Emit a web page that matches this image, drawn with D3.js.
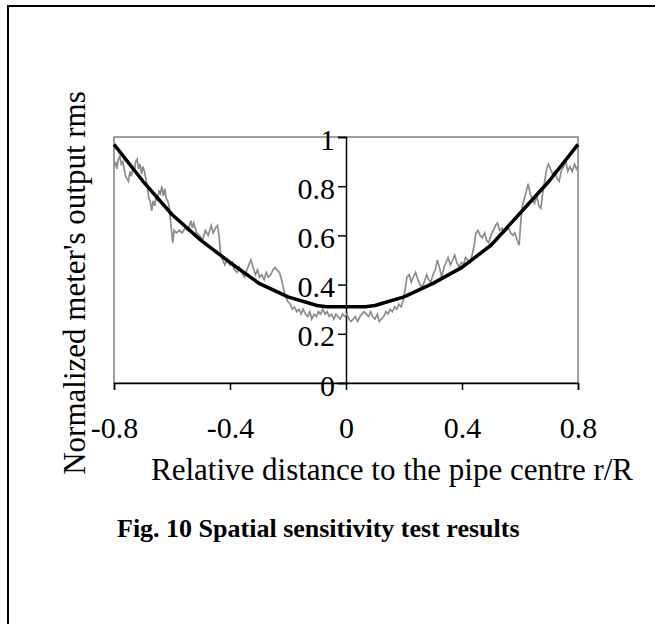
<!DOCTYPE html>
<html>
<head>
<meta charset="utf-8">
<script src="https://cdn.jsdelivr.net/npm/d3@7"></script>
<style>
  body { margin: 0; background: #fff; }
  svg text { font-family: "Liberation Serif", "Times New Roman", serif; fill: #000; }
</style>
</head>
<body>
<script>
// smooth fit (black)
var fitX = [-0.8, -0.7, -0.6, -0.5, -0.4, -0.3, -0.2, -0.1, -0.067, 0.067, 0.1, 0.2, 0.3, 0.4, 0.5, 0.6, 0.7, 0.8];
var fitY = [0.97, 0.82, 0.685, 0.58, 0.49, 0.405, 0.35, 0.315, 0.31, 0.31, 0.315, 0.35, 0.405, 0.47, 0.56, 0.69, 0.82, 0.97];

var measX = [-0.800, -0.795, -0.790, -0.785, -0.780, -0.775, -0.770, -0.765, -0.760, -0.755, -0.750, -0.745, -0.740, -0.735, -0.730, -0.725, -0.720, -0.715, -0.710, -0.705, -0.700, -0.695, -0.690, -0.685, -0.680, -0.675, -0.670, -0.665, -0.660, -0.655, -0.650, -0.645, -0.640, -0.635, -0.630, -0.625, -0.620, -0.615, -0.610, -0.605, -0.600, -0.597, -0.593, -0.585, -0.575, -0.565, -0.555, -0.545, -0.535, -0.530, -0.525, -0.515, -0.505, -0.495, -0.485, -0.475, -0.465, -0.458, -0.450, -0.443, -0.438, -0.432, -0.425, -0.418, -0.410, -0.400, -0.392, -0.385, -0.375, -0.368, -0.360, -0.350, -0.342, -0.335, -0.328, -0.320, -0.312, -0.305, -0.298, -0.290, -0.282, -0.275, -0.268, -0.260, -0.252, -0.245, -0.238, -0.230, -0.222, -0.215, -0.208, -0.200, -0.192, -0.185, -0.178, -0.170, -0.162, -0.155, -0.148, -0.140, -0.132, -0.125, -0.118, -0.110, -0.102, -0.095, -0.088, -0.080, -0.072, -0.065, -0.058, -0.050, -0.042, -0.035, -0.028, -0.020, -0.012, -0.005, 0.003, 0.010, 0.018, 0.025, 0.032, 0.040, 0.048, 0.055, 0.062, 0.070, 0.078, 0.085, 0.092, 0.100, 0.108, 0.115, 0.122, 0.130, 0.138, 0.145, 0.152, 0.160, 0.168, 0.175, 0.182, 0.190, 0.198, 0.204, 0.210, 0.218, 0.225, 0.232, 0.240, 0.248, 0.255, 0.262, 0.270, 0.278, 0.285, 0.292, 0.300, 0.308, 0.315, 0.322, 0.330, 0.338, 0.345, 0.352, 0.360, 0.368, 0.375, 0.382, 0.390, 0.398, 0.405, 0.412, 0.420, 0.428, 0.435, 0.442, 0.448, 0.455, 0.462, 0.470, 0.478, 0.485, 0.492, 0.500, 0.508, 0.515, 0.522, 0.530, 0.538, 0.545, 0.552, 0.560, 0.568, 0.575, 0.582, 0.590, 0.597, 0.603, 0.608, 0.615, 0.622, 0.628, 0.635, 0.642, 0.650, 0.658, 0.665, 0.672, 0.678, 0.685, 0.692, 0.698, 0.705, 0.712, 0.720, 0.728, 0.735, 0.742, 0.750, 0.758, 0.765, 0.772, 0.780, 0.788, 0.795, 0.800];
var measY = [0.88, 0.90, 0.87, 0.91, 0.92, 0.89, 0.90, 0.87, 0.84, 0.83, 0.82, 0.86, 0.84, 0.88, 0.86, 0.90, 0.91, 0.87, 0.89, 0.85, 0.88, 0.86, 0.83, 0.80, 0.75, 0.74, 0.70, 0.74, 0.72, 0.76, 0.74, 0.78, 0.77, 0.80, 0.76, 0.79, 0.75, 0.74, 0.72, 0.66, 0.60, 0.57, 0.62, 0.61, 0.62, 0.61, 0.63, 0.62, 0.66, 0.63, 0.65, 0.61, 0.60, 0.58, 0.62, 0.60, 0.64, 0.61, 0.63, 0.64, 0.60, 0.52, 0.50, 0.48, 0.50, 0.48, 0.49, 0.46, 0.45, 0.47, 0.45, 0.43, 0.46, 0.48, 0.50, 0.47, 0.44, 0.46, 0.43, 0.44, 0.42, 0.45, 0.43, 0.44, 0.46, 0.47, 0.46, 0.45, 0.42, 0.38, 0.35, 0.33, 0.32, 0.30, 0.31, 0.29, 0.30, 0.28, 0.30, 0.28, 0.27, 0.29, 0.26, 0.28, 0.27, 0.29, 0.28, 0.30, 0.28, 0.29, 0.27, 0.28, 0.26, 0.28, 0.27, 0.26, 0.28, 0.27, 0.28, 0.26, 0.25, 0.26, 0.27, 0.25, 0.27, 0.28, 0.29, 0.28, 0.27, 0.29, 0.27, 0.26, 0.28, 0.25, 0.26, 0.27, 0.29, 0.28, 0.30, 0.29, 0.31, 0.30, 0.32, 0.31, 0.34, 0.38, 0.43, 0.44, 0.41, 0.43, 0.45, 0.42, 0.40, 0.39, 0.41, 0.44, 0.42, 0.41, 0.44, 0.46, 0.50, 0.47, 0.43, 0.47, 0.49, 0.51, 0.48, 0.50, 0.52, 0.49, 0.47, 0.49, 0.48, 0.51, 0.50, 0.49, 0.52, 0.56, 0.61, 0.62, 0.60, 0.59, 0.61, 0.58, 0.57, 0.60, 0.62, 0.64, 0.65, 0.62, 0.63, 0.61, 0.62, 0.63, 0.61, 0.60, 0.61, 0.58, 0.56, 0.66, 0.72, 0.75, 0.78, 0.81, 0.77, 0.75, 0.73, 0.76, 0.72, 0.71, 0.77, 0.82, 0.87, 0.89, 0.87, 0.85, 0.86, 0.83, 0.82, 0.86, 0.88, 0.90, 0.86, 0.88, 0.86, 0.89, 0.87, 0.88];

var xTicks = [-0.8, -0.4, 0, 0.4, 0.8];
var yTicks = [0, 0.2, 0.4, 0.6, 0.8, 1];

var width = 655, height = 624;
var plot = {left: 114, right: 578, top: 137, bottom: 383};

var svg = d3.select("body").append("svg")
   .attr("width", width)
   .attr("height", height);

// outer frame (top and left only)
svg.append("path")
   .attr("d", "M8,624 L8,6 L655,6")
   .attr("fill", "none")
   .attr("stroke", "#000")
   .attr("stroke-width", 2);

var x = d3.scaleLinear().domain([-0.8, 0.8]).range([plot.left, plot.right]);
var y = d3.scaleLinear().domain([0, 1]).range([plot.bottom, plot.top]);

// plot area border
svg.append("rect")
   .attr("x", plot.left)
   .attr("y", plot.top)
   .attr("width", plot.right - plot.left)
   .attr("height", plot.bottom - plot.top)
   .attr("fill", "none")
   .attr("stroke", "#808080")
   .attr("stroke-width", 1.5);

// x axis at y = 0
var xAxis = svg.append("g")
   .attr("transform", "translate(0," + y(0) + ")")
   .call(d3.axisBottom(x).tickValues(xTicks).tickSize(7).tickPadding(27)
      .tickFormat(function(d) { return String(d); }));

// y axis at x = 0
var yAxis = svg.append("g")
   .attr("transform", "translate(" + x(0) + ",0)")
   .call(d3.axisLeft(y).tickValues(yTicks).tickSize(8).tickPadding(3)
      .tickFormat(function(d) { return String(d); }));

[xAxis, yAxis].forEach(function(g) {
   g.select(".domain").attr("stroke", "#000").attr("stroke-width", 1.5);
   g.selectAll(".tick line").attr("stroke", "#000").attr("stroke-width", 1.5);
   g.selectAll(".tick text")
      .attr("font-family", "Liberation Serif, Times New Roman, serif")
      .attr("font-size", 30)
      .attr("fill", "#000");
});
yAxis.selectAll(".tick text").attr("dy", "0.4em");

// measured trace
var measData = measX.map(function(v, i) { return [v, measY[i]]; });
svg.append("path")
   .datum(measData)
   .attr("fill", "none")
   .attr("stroke", "#8c8c8c")
   .attr("stroke-width", 1.7)
   .attr("d", d3.line().x(function(d) { return x(d[0]); }).y(function(d) { return y(d[1]); }));

// fitted curve
var fitData = fitX.map(function(v, i) { return [v, fitY[i]]; });
svg.append("path")
   .datum(fitData)
   .attr("fill", "none")
   .attr("stroke", "#000")
   .attr("stroke-width", 3.5)
   .attr("stroke-linejoin", "round")
   .attr("d", d3.line().x(function(d) { return x(d[0]); }).y(function(d) { return y(d[1]); }));

// axis titles
svg.append("text")
   .attr("x", 151)
   .attr("y", 480)
   .attr("font-size", 31)
   .text("Relative distance to the pipe centre r/R");

svg.append("text")
   .attr("transform", "translate(85,283) rotate(-90)")
   .attr("text-anchor", "middle")
   .attr("font-size", 31)
   .text("Normalized meter's output rms");

// caption
svg.append("text")
   .attr("x", 117)
   .attr("y", 537)
   .attr("font-size", 26)
   .attr("font-weight", "bold")
   .text("Fig. 10 Spatial sensitivity test results");
</script>
</body>
</html>
